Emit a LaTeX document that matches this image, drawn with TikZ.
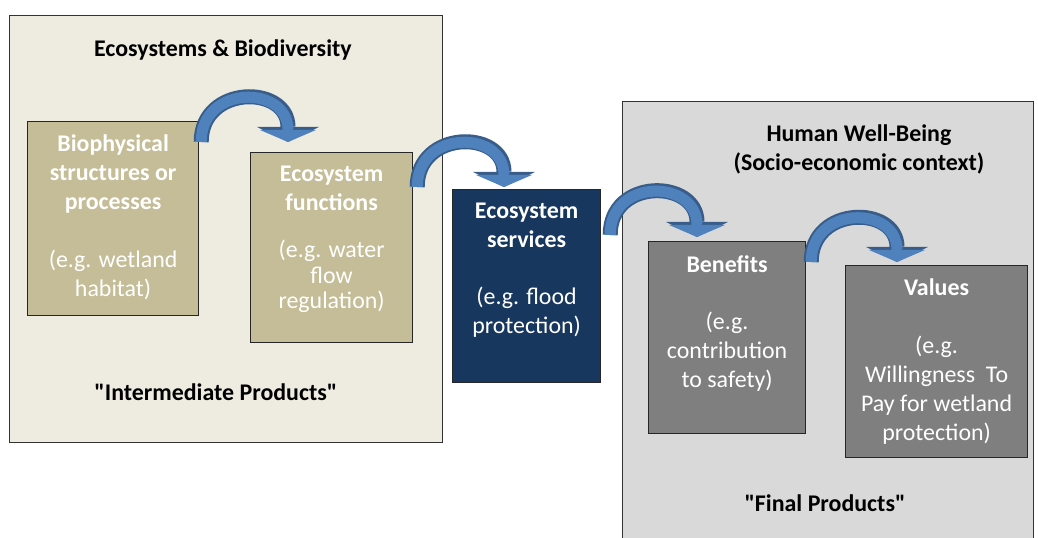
\documentclass[tikz,border=0pt]{standalone}
\usepackage{fontspec}
\setmainfont{Carlito}
\usepackage{tikz}
\usetikzlibrary{arrows.meta}

\definecolor{ecobg}{HTML}{EEECE1}
\definecolor{hwbbg}{HTML}{D9D9D9}
\definecolor{tanbox}{HTML}{C4BD97}
\definecolor{navybox}{HTML}{17375E}
\definecolor{greybox}{HTML}{7F7F7F}
\definecolor{arrowblue}{HTML}{4F81BD}
\definecolor{arrowedge}{HTML}{385D8A}

\begin{document}
\begin{tikzpicture}[x=1bp,y=1bp,
  zone/.style={draw=black!80,line width=0.8bp,anchor=north west,inner sep=0},
  stage/.style={draw=black!85,line width=1.2bp,anchor=north west,inner sep=0},
  stagetext/.style={anchor=north,align=center,text=white,inner sep=0,font=\fontsize{24}{29}\selectfont},
  zonetitle/.style={align=center,inner sep=0,font=\bfseries\fontsize{24}{29}\selectfont},
  curvedarrow/.style={draw=arrowblue,line width=11bp,-{Triangle[width=56bp,length=12bp,line width=0pt]},out=90,in=90,looseness=1.7,
    preaction={draw=arrowedge,line width=15bp,-{Triangle[width=62bp,length=15bp,line width=0pt]}}}]
  \useasboundingbox (0,0) rectangle (1038,538);
  %left
  \node[zone,fill=ecobg,minimum width=433bp,minimum height=427bp] (eco) at (9,523) {};
  \node[zonetitle,at=(eco.north),below=25bp,xshift=-3bp] (ecotitle) {Ecosystems \& Biodiversity};
  \node[zonetitle,at=(eco.south),above=42bp,xshift=-10bp] (inter) {\textquotedbl Intermediate Products\textquotedbl};
  %right
  \node[zone,fill=hwbbg,minimum width=411bp,minimum height=460bp] (hwb) at (622,437) {};
  \node[zonetitle,at=(hwb.north),below=24bp,xshift=31bp] (hwbtitle) {Human Well-Being\\(Socio-economic context)};
  \node[zonetitle] (final) at (825,35) {\textquotedbl Final Products\textquotedbl};

  %stages
  \node[stage,fill=tanbox,minimum width=171bp,minimum height=194bp] (bio) at (27,417) {};
  \node[stage,fill=tanbox,minimum width=162bp,minimum height=190bp] (fun) at (250,386) {};
  \node[stage,fill=navybox,minimum width=148bp,minimum height=193bp] (serv) at (452,349) {};
  \node[stage,fill=greybox,minimum width=157bp,minimum height=192bp] (ben) at (648,297) {};
  \node[stage,fill=greybox,minimum width=182bp,minimum height=192bp] (val) at (845,273) {};

  \node[stagetext,at=(bio.north),below=14bp] (biotext) {\textbf{Biophysical}\\\textbf{structures or}\\\textbf{processes}\\[29bp](e.g. wetland\\habitat)};
  \node[stagetext,at=(fun.north),below=14bp] (funtext) {\textbf{Ecosystem}\\\textbf{functions}\\[18bp](e.g. water\\[-3bp]flow\\[-4bp]regulation)};
  \node[stagetext,at=(serv.north),below=14bp] (servtext) {\textbf{Ecosystem}\\\textbf{services}\\[28bp](e.g. flood\\protection)};
  \node[stagetext,at=(ben.north),below=14bp] (bentext) {\textbf{Benefits}\\[29bp](e.g.\\contribution\\to safety)};
  \node[stagetext,at=(val.north),below=14bp] (valtext) {\textbf{Values}\\[29bp](e.g.\\Willingness~ To\\Pay for wetland\\protection)};

  %arrows
  \draw[curvedarrow] ([shift={(2,-21)}]bio.north east) to ([shift={(38,10)}]fun.north west);
  \draw[curvedarrow] ([shift={(4,-35)}]fun.north east) to ([shift={(52,2)}]serv.north west);
  \draw[curvedarrow] ([shift={(9,-46)}]serv.north east) to ([shift={(49,4)}]ben.north west);
  \draw[curvedarrow] ([shift={(5,-21)}]ben.north east) to ([shift={(52,3)}]val.north west);
\end{tikzpicture}
\end{document}
